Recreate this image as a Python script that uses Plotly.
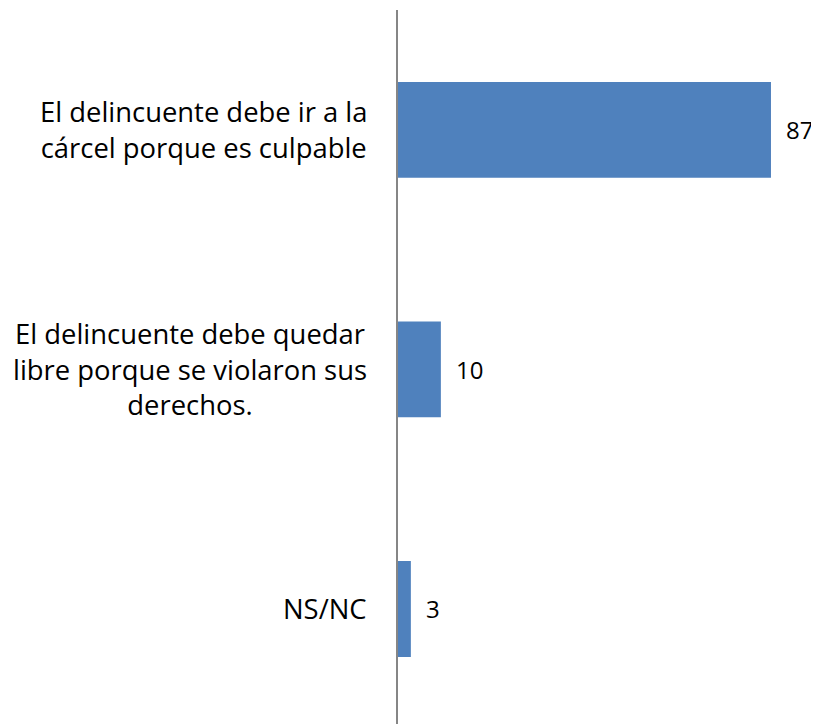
import plotly.graph_objects as go

categories = [
    "El delincuente debe ir a la<br>cárcel porque es culpable",
    "El delincuente debe quedar<br>libre porque se violaron sus<br>derechos.",
    "NS/NC",
]
values = [87, 10, 3]

FONT = "Open Sans, Lato, sans-serif"
CAT_SIZE = 27.4
VAL_SIZE = 24

fig = go.Figure(
    go.Bar(
        y=categories,
        x=values,
        orientation="h",
        width=0.4,
        marker=dict(color="#4F81BD", line=dict(width=0)),
        hoverinfo="skip",
    )
)

annotations = []
for cat, val in zip(categories, values):
    annotations.append(
        dict(
            x=0, y=cat, xref="x", yref="y",
            text=cat, showarrow=False,
            xanchor="right", yanchor="middle", align="center",
            xshift=-29,
            font=dict(family=FONT, size=CAT_SIZE, color="#000000"),
        )
    )
    annotations.append(
        dict(
            x=val, y=cat, xref="x", yref="y",
            text=str(val), showarrow=False,
            xanchor="left", yanchor="middle",
            xshift=13,
            font=dict(family=FONT, size=VAL_SIZE, color="#000000"),
        )
    )

fig.update_layout(
    width=811, height=716,
    margin=dict(l=390, r=0, t=2, b=0),
    paper_bgcolor="white", plot_bgcolor="white",
    showlegend=False,
    annotations=annotations,
    xaxis=dict(range=[0, 98.2], visible=False, fixedrange=True),
    yaxis=dict(
        range=[2.48, -0.5],
        showticklabels=False, ticks="",
        showgrid=False, zeroline=False,
        showline=True, linecolor="#868686", linewidth=1.5,
        fixedrange=True,
    ),
)

fig.write_html("out.html")
